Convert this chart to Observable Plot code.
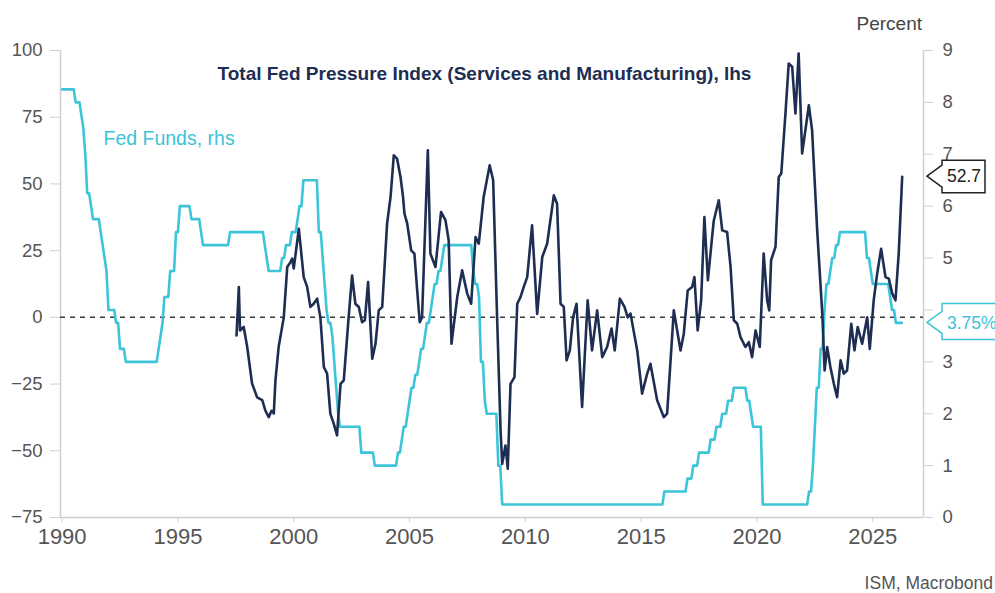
<!DOCTYPE html>
<html>
<head>
<meta charset="utf-8">
<script src="https://cdn.jsdelivr.net/npm/d3@7"></script>
<script src="https://cdn.jsdelivr.net/npm/@observablehq/plot@0.6"></script>
<style>
  html, body { margin: 0; padding: 0; background: #fff; }
  #chart { width: 995px; height: 593px; }
</style>
</head>
<body>
<div id="chart"></div>
<script>
// ---- data ----
const yearTicks = [1990, 1995, 2000, 2005, 2010, 2015, 2020, 2025];
const leftTicks = [-75, -50, -25, 0, 25, 50, 75, 100];
const rightTicks = [0, 1, 2, 3, 4, 5, 6, 7, 8, 9];
const hiddenRightLabels = [4]; // covered by the last-value box in the reference

const titleLabel = "Total Fed Pressure Index (Services and Manufacturing), lhs";
const fedLabel = "Fed Funds, rhs";
const unitLabel = "Percent";
const sourceLabel = "ISM, Macrobond";

// Total Fed Pressure Index (lhs): [year, value]
const pressureIndex = [
  [1997.53,-6.8],[1997.63,11.4],[1997.68,-4.9],[1997.84,-3.6],[1997.99,-11],[1998.20,-24.8],
  [1998.42,-30],[1998.64,-31],[1998.78,-35],[1998.92,-37.4],[1999.04,-35],[1999.14,-36],
  [1999.21,-23.6],[1999.35,-11],[1999.57,0],[1999.72,18.9],[1999.86,20.7],[1999.93,22],
  [2000.00,18.3],[2000.22,33.2],[2000.43,15.1],[2000.58,11.4],[2000.72,3.9],[2000.86,5.1],
  [2001.01,7],[2001.15,0],[2001.30,-18.6],[2001.44,-21.1],[2001.58,-36.1],[2001.73,-39.9],
  [2001.87,-44.2],[2002.02,-24.9],[2002.16,-23.6],[2002.37,0],[2002.52,15.7],[2002.66,5.1],
  [2002.81,3.9],[2002.95,-1.8],[2003.07,-1.1],[2003.21,13.2],[2003.39,-15.5],[2003.53,-9.9],
  [2003.67,2.6],[2003.82,3.9],[2004.03,35.1],[2004.18,45.1],[2004.32,60.7],[2004.46,59.5],
  [2004.61,52.6],[2004.72,45.1],[2004.78,38.9],[2004.90,35.1],[2005.07,25.1],[2005.21,23.9],
  [2005.33,10.1],[2005.44,-1.8],[2005.54,0],[2005.79,62.6],[2005.90,23.9],[2006.12,18.9],
  [2006.36,39.5],[2006.55,36.4],[2006.69,28.9],[2006.81,-9.9],[2007.06,7.6],[2007.27,17.6],
  [2007.49,8.9],[2007.66,5.1],[2007.85,30.1],[2007.99,27.6],[2008.20,45.1],[2008.46,57],
  [2008.61,51.4],[2008.78,0],[2008.93,-42.4],[2009.00,-54.9],[2009.14,-48],[2009.24,-56.7],
  [2009.36,-24.9],[2009.53,-22.4],[2009.65,5.1],[2009.79,7.6],[2009.93,11.4],[2010.08,15.1],
  [2010.29,34.5],[2010.51,1.3],[2010.73,22.6],[2010.94,27.6],[2011.23,45.7],[2011.37,42.6],
  [2011.52,5.1],[2011.66,3.9],[2011.78,-16.1],[2011.92,-12.4],[2012.06,0],[2012.21,5.1],
  [2012.45,-33.6],[2012.69,6.4],[2012.88,-12.4],[2013.10,2.6],[2013.32,-14.9],[2013.53,-11.1],
  [2013.72,-4.2],[2013.86,-12.4],[2014.08,7],[2014.28,3.9],[2014.42,0],[2014.54,1.4],
  [2014.83,-12.4],[2015.04,-28.6],[2015.26,-21.1],[2015.40,-17.4],[2015.69,-31.1],[2015.98,-37.4],
  [2016.12,-36.1],[2016.41,2.6],[2016.70,-12.4],[2016.84,-6.1],[2017.01,10.1],[2017.20,11.4],
  [2017.30,15.1],[2017.44,-4.9],[2017.59,6.4],[2017.73,37.6],[2017.88,13.9],[2018.13,36],
  [2018.35,43.9],[2018.50,32.6],[2018.71,32],[2018.86,18.9],[2019.00,-1.1],[2019.15,-2.4],
  [2019.29,-7.4],[2019.50,-11.1],[2019.65,-9.3],[2019.79,-14.9],[2019.94,-4.9],[2020.12,-11.1],
  [2020.29,23.9],[2020.44,6.4],[2020.53,2.6],[2020.61,21.4],[2020.80,26.4],[2020.94,52.6],
  [2021.05,53.9],[2021.23,76.4],[2021.37,95.1],[2021.52,93.9],[2021.66,76.4],[2021.80,98.9],
  [2021.95,61.4],[2022.09,70.1],[2022.24,79.5],[2022.38,70.1],[2022.60,32.6],[2022.82,1.4],
  [2022.92,-19.9],[2023.03,-11.1],[2023.17,-18.6],[2023.32,-24.9],[2023.46,-29.9],[2023.61,-16.1],
  [2023.75,-21.1],[2023.89,-19.9],[2024.07,-2.4],[2024.21,-12.4],[2024.35,-3.6],[2024.54,-9.9],
  [2024.76,0],[2024.87,-11.8],[2025.04,6.4],[2025.19,16.4],[2025.36,25.7],[2025.55,15.1],
  [2025.69,14.5],[2025.84,8.9],[2025.98,6.4],[2026.12,23.9],[2026.27,52.7]
];

// Fed Funds target rate (rhs, percent): [year, rate] at each change
const fedFunds = [
  [1990.00,8.25],[1990.54,8.0],[1990.83,7.75],[1990.87,7.5],[1990.96,7.25],[1990.97,7.0],
  [1991.02,6.75],[1991.08,6.25],[1991.19,6.0],[1991.33,5.75],[1991.60,5.5],[1991.71,5.25],
  [1991.83,5.0],[1991.87,4.75],[1991.92,4.5],[1991.97,4.0],[1992.27,3.75],[1992.50,3.25],
  [1992.68,3.0],[1994.09,3.25],[1994.22,3.5],[1994.30,3.75],[1994.38,4.25],[1994.62,4.75],
  [1994.88,5.5],[1995.08,6.0],[1995.52,5.75],[1995.97,5.5],[1996.08,5.25],[1997.23,5.5],
  [1998.74,5.25],[1998.79,5.0],[1998.88,4.75],[1999.50,5.0],[1999.65,5.25],[1999.88,5.5],
  [2000.09,5.75],[2000.22,6.0],[2000.38,6.5],[2001.01,6.0],[2001.08,5.5],[2001.22,5.0],
  [2001.30,4.5],[2001.38,4.0],[2001.49,3.75],[2001.64,3.5],[2001.71,3.0],[2001.76,2.5],
  [2001.85,2.0],[2001.95,1.75],[2002.85,1.25],[2003.48,1.0],[2004.49,1.25],[2004.61,1.5],
  [2004.72,1.75],[2004.86,2.0],[2004.96,2.25],[2005.08,2.5],[2005.22,2.75],[2005.34,3.0],
  [2005.49,3.25],[2005.61,3.5],[2005.72,3.75],[2005.84,4.0],[2005.96,4.25],[2006.08,4.5],
  [2006.22,4.75],[2006.36,5.0],[2006.49,5.25],[2007.71,4.75],[2007.83,4.5],[2007.95,4.25],
  [2008.06,3.5],[2008.08,3.0],[2008.21,2.25],[2008.33,2.0],[2008.77,1.5],[2008.83,1.0],
  [2008.96,0.25],[2015.96,0.5],[2016.96,0.75],[2017.21,1.0],[2017.46,1.25],[2017.96,1.5],
  [2018.21,1.75],[2018.46,2.0],[2018.74,2.25],[2018.97,2.5],[2019.58,2.25],[2019.71,2.0],
  [2019.83,1.75],[2020.17,1.25],[2020.21,0.25],[2022.21,0.5],[2022.34,1.0],[2022.46,1.75],
  [2022.57,2.5],[2022.72,3.25],[2022.84,4.0],[2022.96,4.5],[2023.09,4.75],[2023.21,5.0],
  [2023.34,5.25],[2023.57,5.5],[2024.71,5.0],[2024.86,4.75],[2024.96,4.5],[2025.71,4.25],
  [2025.83,4.0],[2025.96,3.75],[2026.27,3.75]
];

// ---- chart ----
const navy = "#1e2d52";
const cyan = "#3cc4d8";
const axisGray = "#cfcfcf";
const textGray = "#555555";
const font = "'Liberation Sans', Arial, sans-serif";

const xDomain = [1989.93, 2027.19];
const yDomain = [-75, 100];
const rateMax = 9;
// map percent (rhs) onto lhs scale
const toLeft = r => yDomain[0] + r * (yDomain[1] - yDomain[0]) / rateMax;
const fromLeft = v => (v - yDomain[0]) * rateMax / (yDomain[1] - yDomain[0]);

const pi = pressureIndex.map(([year, value]) => ({year, value}));
// the target rate read at each month end (step function of the change points)
const ffStart = fedFunds[0][0], ffEnd = fedFunds[fedFunds.length - 1][0];
const ff = [];
for (let k = 0; ffStart + k / 12 <= ffEnd + 1e-9; k++) {
  const t = ffStart + k / 12;
  let rate = fedFunds[0][1];
  for (const [year, r] of fedFunds) if (year <= t + 1e-9) rate = r;
  ff.push({year: t, rate});
}

const plot = Plot.plot({
  width: 995,
  height: 593,
  marginLeft: 60,
  marginRight: 72,
  marginTop: 50,
  marginBottom: 76,
  style: {fontFamily: font, background: "#fff", overflow: "visible"},
  x: {domain: xDomain, label: null},
  y: {domain: yDomain, label: null},
  marks: [
    Plot.ruleX([xDomain[0], xDomain[1]], {stroke: axisGray, strokeWidth: 1.5}),
    Plot.ruleY([yDomain[0]], {stroke: axisGray, strokeWidth: 1.5}),
    Plot.ruleY([0], {stroke: "#3a3a3a", strokeWidth: 1.5, strokeDasharray: "5,5"}),
    Plot.line(ff, {x: "year", y: d => toLeft(d.rate), stroke: cyan, strokeWidth: 2.6}),
    Plot.line(pi, {x: "year", y: "value", stroke: navy, strokeWidth: 2.6}),
    Plot.axisY(leftTicks, {anchor: "left", tickSize: 10, tickPadding: 8, fontSize: 18.5, stroke: axisGray, fill: textGray, label: null}),
    Plot.axisY(rightTicks.map(toLeft), {anchor: "right", tickSize: 9, tickPadding: 10, fontSize: 18.5, stroke: axisGray, fill: textGray, label: null,
      tickFormat: v => {
        const r = Math.round(fromLeft(v));
        return hiddenRightLabels.includes(r) ? "" : String(r);
      }}),
    Plot.axisX(yearTicks, {anchor: "bottom", tickSize: 5, tickPadding: 6, fontSize: 22, stroke: axisGray, fill: textGray, label: null,
      tickFormat: d => String(d)}),
    Plot.text([titleLabel], {frameAnchor: "top-left", dx: 157, dy: 23, textAnchor: "start", lineAnchor: "middle",
      fontSize: 19, fontWeight: "bold", fill: navy}),
    Plot.text([fedLabel], {frameAnchor: "top-left", dx: 43, dy: 88, textAnchor: "start", lineAnchor: "middle",
      fontSize: 19.5, fill: cyan})
  ]
});

// callout boxes for last values, and outer texts
const svg = d3.select(plot);
const sx = plot.scale("x"), sy = plot.scale("y");
const edge = sx.apply(xDomain[1]);
function callout(value, text, color, up, down, right) {
  const y = sy.apply(value);
  const tipX = edge + 4, bx = edge + 19;
  const g = svg.append("g");
  g.append("path")
    .attr("d", `M${tipX},${y}L${bx},${y - 11}V${y - up}H${right}V${y + down}H${bx}V${y + 11}Z`)
    .attr("fill", "#fff").attr("stroke", color).attr("stroke-width", 1.5);
  g.append("text").attr("x", bx + 5).attr("y", y).attr("dy", "0.35em").attr("text-anchor", "start")
    .attr("font-size", 17.5).attr("font-family", font).attr("fill", color).text(text);
}
const lastPI = pressureIndex[pressureIndex.length - 1][1];
const lastFF = fedFunds[fedFunds.length - 1][1];
callout(lastPI, String(lastPI), "#222", 16, 16.5, 985);
callout(toLeft(lastFF), lastFF.toFixed(2) + "%", cyan, 19, 17, 1005);

svg.append("text").attr("x", edge - 1).attr("y", 23).attr("dy", "0.35em").attr("text-anchor", "end")
  .attr("font-size", 19).attr("font-family", font).attr("fill", "#444").text(unitLabel);
svg.append("text").attr("x", 993).attr("y", 583).attr("dy", "0.35em").attr("text-anchor", "end")
  .attr("font-size", 17.5).attr("font-family", font).attr("fill", textGray).text(sourceLabel);

document.getElementById("chart").appendChild(plot);
</script>
</body>
</html>
